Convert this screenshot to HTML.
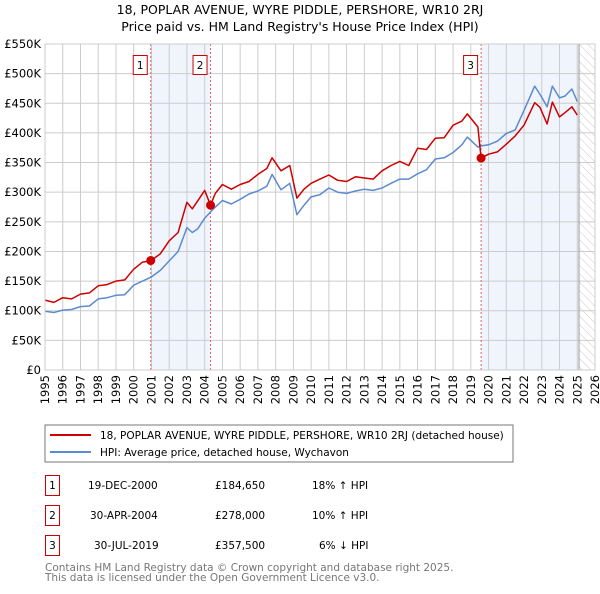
<!DOCTYPE html>
<html><head><meta charset="utf-8"><style>
body{margin:0;background:#fff;width:600px;height:590px;overflow:hidden;font-family:"DejaVu Sans","Liberation Sans",sans-serif}
svg text{font-family:"DejaVu Sans","Liberation Sans",sans-serif}
</style></head><body>
<svg id="c" width="600" height="590" xmlns="http://www.w3.org/2000/svg">
<defs><pattern id="hatch" patternUnits="userSpaceOnUse" width="6" height="6" patternTransform="rotate(-45)"><line x1="0" y1="0" x2="0" y2="6" stroke="#bbb" stroke-width="0.8"/></pattern></defs>
<text x="300" y="14" text-anchor="middle" font-size="12.5">18, POPLAR AVENUE, WYRE PIDDLE, PERSHORE, WR10 2RJ</text>
<text x="300" y="31" text-anchor="middle" font-size="12.5">Price paid vs. HM Land Registry's House Price Index (HPI)</text>
<g id="plot"></g>
<rect x="45" y="425" width="468" height="37" fill="#fff" stroke="#777"/>
<line x1="50" y1="435" x2="91" y2="435" stroke="#cc0000" stroke-width="2"/>
<text x="100" y="439" font-size="10.5">18, POPLAR AVENUE, WYRE PIDDLE, PERSHORE, WR10 2RJ (detached house)</text>
<line x1="50" y1="452" x2="91" y2="452" stroke="#5b8bd0" stroke-width="2"/>
<text x="100" y="456" font-size="10.5">HPI: Average price, detached house, Wychavon</text>
<g font-size="10.5">
<rect x="45.5" y="475.5" width="14" height="20" fill="none" stroke="#cc0000"/><text x="52.5" y="489" text-anchor="middle">1</text>
<text x="88" y="489">19-DEC-2000</text><text x="215" y="489">£184,650</text><text x="312" y="489">18% ↑ HPI</text>
<rect x="45.5" y="505.5" width="14" height="20" fill="none" stroke="#cc0000"/><text x="52.5" y="519" text-anchor="middle">2</text>
<text x="90" y="519">30-APR-2004</text><text x="215" y="519">£278,000</text><text x="312" y="519">10% ↑ HPI</text>
<rect x="45.5" y="535.5" width="14" height="20" fill="none" stroke="#cc0000"/><text x="52.5" y="549" text-anchor="middle">3</text>
<text x="94" y="549">30-JUL-2019</text><text x="215" y="549">£357,500</text><text x="319" y="549">6% ↓ HPI</text>
</g>
<text x="45" y="571" font-size="10.5" fill="#777">Contains HM Land Registry data © Crown copyright and database right 2025.</text>
<text x="45" y="581" font-size="10.5" fill="#777">This data is licensed under the Open Government Licence v3.0.</text>
</svg>
<script>
const hpiYears=[1995,1995.5,1996,1996.5,1997,1997.5,1998,1998.5,1999,1999.5,2000,2000.5,2001,2001.5,2002,2002.5,2003,2003.3,2003.6,2004,2004.5,2005,2005.5,2006,2006.5,2007,2007.5,2007.8,2008.3,2008.8,2009.2,2009.6,2010,2010.5,2011,2011.5,2012,2012.5,2013,2013.5,2014,2014.5,2015,2015.5,2016,2016.5,2017,2017.5,2018,2018.5,2018.8,2019.4,2019.6,2020,2020.5,2021,2021.5,2022,2022.6,2022.9,2023.3,2023.6,2024,2024.3,2024.7,2025];
const hpiValues=[99,97,101,102,107,108,120,122,126,127,143,150,157,168,184,200,240,232,238,256,272,286,280,288,297,302,310,330,304,315,262,278,292,296,307,300,298,302,305,303,307,315,322,322,331,338,356,358,367,380,393,376,378,380,386,399,405,438,479,465,444,479,459,462,474,453];
const propYears=[1995,1995.5,1996,1996.5,1997,1997.5,1998,1998.5,1999,1999.5,2000,2000.5,2000.96,2001.5,2002,2002.5,2003,2003.3,2003.6,2004,2004.33,2004.6,2005,2005.5,2006,2006.5,2007,2007.5,2007.8,2008.3,2008.8,2009.2,2009.6,2010,2010.5,2011,2011.5,2012,2012.5,2013,2013.5,2014,2014.5,2015,2015.5,2016,2016.5,2017,2017.5,2018,2018.5,2018.8,2019.4,2019.58,2020,2020.5,2021,2021.5,2022,2022.6,2022.9,2023.3,2023.6,2024,2024.3,2024.7,2025];
const propValues=[118,114,122,120,128,130,142,144,150,152,170,182,184,196,218,232,283,272,285,303,278,298,313,305,313,318,330,340,358,336,345,290,305,315,322,329,320,318,326,324,322,336,345,352,345,374,372,391,392,413,420,432,410,357.5,364,368,381,395,413,451,443,415,452,427,434,444,430];
const saleYears=[2000.96,2004.33,2019.58];
const saleValues=[184.65,278,357.5];
const saleLabels=["1","2","3"];
const yTicks=[0,50,100,150,200,250,300,350,400,450,500,550];
const yTickLabels=["£0","£50K","£100K","£150K","£200K","£250K","£300K","£350K","£400K","£450K","£500K","£550K"];
const xTicks=[1995,1996,1997,1998,1999,2000,2001,2002,2003,2004,2005,2006,2007,2008,2009,2010,2011,2012,2013,2014,2015,2016,2017,2018,2019,2020,2021,2022,2023,2024,2025,2026];

const X0=45,X1=595,Y0=370,Y1=44;
const xs=v=>X0+(v-1995)/(2026-1995)*(X1-X0);
const ys=v=>Y0-v/550*(Y0-Y1);
const NS="http://www.w3.org/2000/svg";
const g=document.getElementById('plot');
function mk(t,a,p){const e=document.createElementNS(NS,t);for(const k in a)e.setAttribute(k,a[k]);(p||g).appendChild(e);return e;}
// shaded regions
let r=mk('rect',{x:xs(saleYears[0]),y:Y1,width:xs(saleYears[1])-xs(saleYears[0]),height:Y0-Y1,fill:'#f0f4fc'});


r=mk('rect',{x:xs(saleYears[2]),y:Y1,width:xs(2025.1)-xs(saleYears[2]),height:Y0-Y1,fill:'#f0f4fc'});


r=mk('rect',{x:xs(2025.1),y:Y1,width:X1-xs(2025.1),height:Y0-Y1,fill:'url(#hatch)'});


// grid
yTicks.forEach((v,i)=>{
  const l=mk('line',{x1:X0,x2:X1,y1:ys(v),y2:ys(v),stroke:'#ccc','stroke-width':1});
  
  
  const t=mk('text',{x:X0-4,y:ys(v)+4,'text-anchor':'end','font-size':11.5});
  t.textContent=yTickLabels[i];
  
  
});
xTicks.forEach(v=>{
  const l=mk('line',{x1:xs(v),x2:xs(v),y1:Y1,y2:Y0,stroke:'#ccc','stroke-width':1});
  
  
  const t=mk('text',{x:0,y:0,'font-size':11.5,'text-anchor':'end',transform:`translate(${xs(v)+4},${Y0+5}) rotate(-90)`});
  t.textContent=v;
  
  
});
let fl=mk('line',{x1:xs(2025.1),x2:xs(2025.1),y1:Y1,y2:Y0,stroke:'#999','stroke-width':1});


// sale vertical lines
saleYears.forEach((v,i)=>{
  const l=mk('line',{x1:xs(v),x2:xs(v),y1:Y1,y2:Y0,stroke:'#e06060','stroke-width':1,'stroke-dasharray':'2,2'});
  
  
});
// series
function path(xsArr,vs,color,name){
  const d=xsArr.map((x,i)=>(i?'L':'M')+xs(x).toFixed(1)+','+ys(vs[i]).toFixed(1)).join('');
  const p=mk('path',{d:d,fill:'none',stroke:color,'stroke-width':1.5,'stroke-linejoin':'round'});
  
  
}
path(hpiYears,hpiValues,'#5b8bd0','hpi-line');
path(propYears,propValues,'#cc0000','property-line');
saleYears.forEach((v,i)=>{
  const c=mk('circle',{cx:xs(v),cy:ys(saleValues[i]),r:4.5,fill:'#cc0000'});
  
  
  const b=mk('rect',{x:xs(v)-17.5,y:55.5,width:14,height:19,fill:'#fff',stroke:'#cc0000'});
  
  
  const t=mk('text',{x:xs(v)-10.5,y:69,'text-anchor':'middle','font-size':10.5});
  t.textContent=saleLabels[i];
  
  
});
let ax=mk('rect',{x:X0,y:Y1,width:X1-X0,height:Y0-Y1,fill:'none',stroke:'#ccc'});


</script>
</body></html>
